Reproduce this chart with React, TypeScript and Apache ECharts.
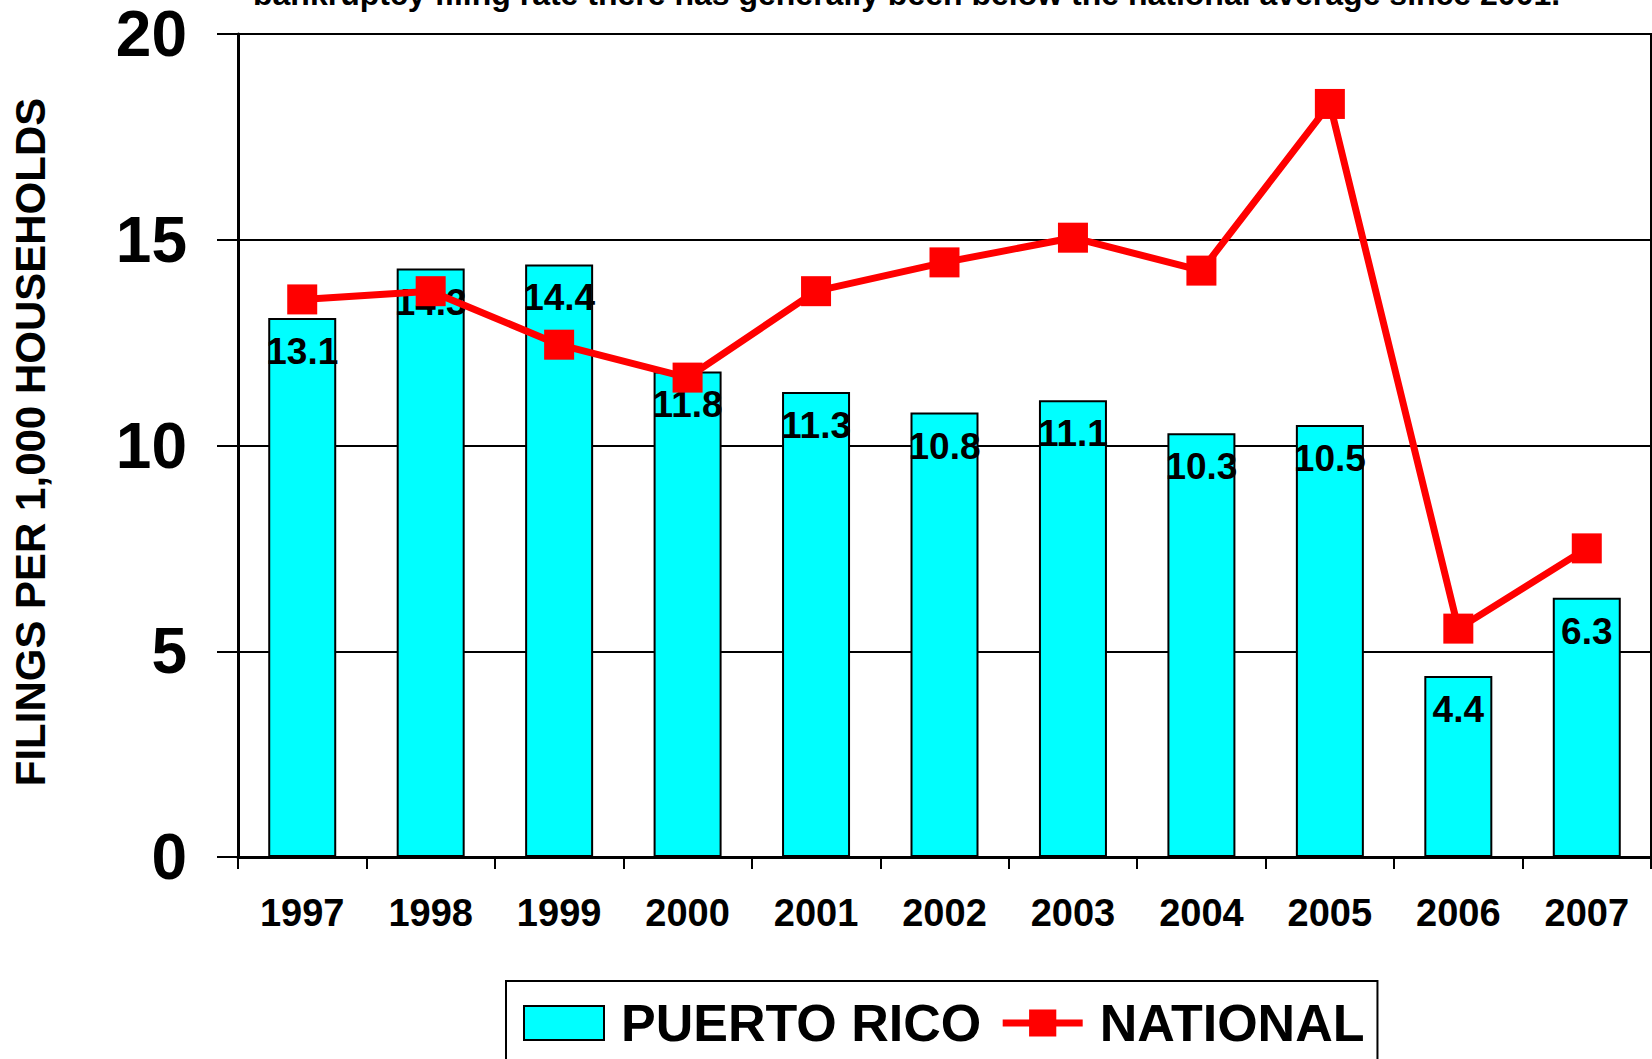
import { useEffect, useRef } from 'react';
import * as echarts from 'echarts';

const years = ['1997', '1998', '1999', '2000', '2001', '2002', '2003', '2004', '2005', '2006', '2007'];
const puertoRico = [13.1, 14.3, 14.4, 11.8, 11.3, 10.8, 11.1, 10.3, 10.5, 4.4, 6.3];
const national = [13.55, 13.75, 12.45, 11.65, 13.75, 14.45, 15.05, 14.25, 18.3, 5.55, 7.5];
const yMin = 0;
const yMax = 20;
const yStep = 5;
const seriesNames = ['PUERTO RICO', 'NATIONAL'];
const titleText = 'bankruptcy filing rate there has generally been below the national average since 2001.';
const yAxisTitle = 'FILINGS PER 1,000 HOUSEHOLDS';

const FONT = '"Liberation Sans", Arial, Helvetica, sans-serif';

export default function App() {
  const ref = useRef<HTMLDivElement>(null);
  useEffect(() => {
    if (!ref.current) return;
    const chart = echarts.init(ref.current, undefined, { renderer: 'svg' });
    chart.setOption({
      animation: false,
      backgroundColor: '#ffffff',
      textStyle: { fontFamily: FONT, fontWeight: 'bold', color: '#000' },
      grid: {
        left: 238,
        top: 34,
        right: 1,
        bottom: 202,
        show: true,
        borderColor: '#000',
        borderWidth: 2,
        backgroundColor: 'transparent',
      },
      graphic: [
        {
          type: 'text',
          x: 253,
          y: 10,
          style: {
            text: titleText,
            font: `bold 32px ${FONT}`,
            fill: '#000',
            align: 'left',
            verticalAlign: 'bottom',
          },
        },
        {
          type: 'text',
          x: 30,
          y: 442,
          rotation: Math.PI / 2,
          style: {
            text: yAxisTitle,
            font: `bold 42px ${FONT}`,
            fill: '#000',
            align: 'center',
            verticalAlign: 'middle',
          },
        },
      ],
      legend: {
        left: 506,
        top: 981,
        orient: 'horizontal',
        itemWidth: 80,
        itemHeight: 34,
        itemGap: 18,
        padding: [16, 13, 20, 17],
        borderColor: '#000',
        borderWidth: 2,
        backgroundColor: '#fff',
        lineStyle: { width: 7, color: '#FF0000' },
        textStyle: {
          fontFamily: FONT,
          fontSize: 52,
          fontWeight: 'bold',
          color: '#000',
          padding: [0, 0, 0, 12],
        },
        data: [
          { name: seriesNames[0], icon: 'rect' },
          { name: seriesNames[1] },
        ],
      },
      xAxis: {
        type: 'category',
        data: years,
        boundaryGap: true,
        axisLine: { show: true, lineStyle: { color: '#000', width: 3 } },
        axisTick: { show: true, alignWithLabel: false, length: 12, lineStyle: { color: '#000', width: 2 } },
        axisLabel: {
          fontFamily: FONT,
          fontSize: 38,
          fontWeight: 'bold',
          color: '#000',
          margin: 37,
          interval: 0,
        },
        splitLine: { show: false },
      },
      yAxis: {
        type: 'value',
        min: yMin,
        max: yMax,
        interval: yStep,
        axisLine: { show: true, lineStyle: { color: '#000', width: 3 } },
        axisTick: { show: true, length: 21, lineStyle: { color: '#000', width: 2 } },
        axisLabel: {
          fontFamily: FONT,
          fontSize: 64,
          fontWeight: 'bold',
          color: '#000',
          margin: 51,
        },
        splitLine: { show: true, lineStyle: { color: '#000', width: 2 } },
      },
      series: [
        {
          name: seriesNames[0],
          type: 'bar',
          data: puertoRico,
          barWidth: 68,
          itemStyle: { color: '#00FFFF', borderColor: '#000', borderWidth: 2 },
          label: {
            show: true,
            position: 'insideTop',
            distance: 15,
            fontFamily: FONT,
            fontSize: 37,
            fontWeight: 'bold',
            color: '#000',
          },
          z: 2,
        },
        {
          name: seriesNames[1],
          type: 'line',
          data: national,
          symbol: 'rect',
          symbolSize: 30,
          lineStyle: { color: '#FF0000', width: 7 },
          itemStyle: { color: '#FF0000' },
          z: 3,
        },
      ],
    });
    return () => chart.dispose();
  }, []);
  return (
    <div
      ref={ref}
      style={{ position: 'fixed', left: 0, top: 0, width: 1652, height: 1059, background: '#fff' }}
    />
  );
}
